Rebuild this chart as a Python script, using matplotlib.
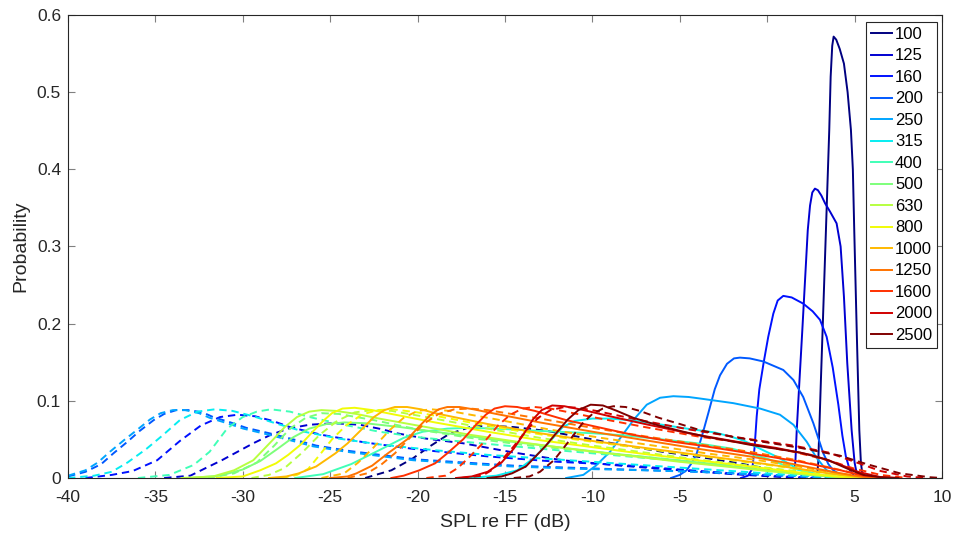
import matplotlib
matplotlib.use("Agg")
import matplotlib.pyplot as plt
import numpy as np

plt.rcParams['font.family'] = ['Liberation Sans', 'DejaVu Sans']
plt.rcParams['axes.unicode_minus'] = False

# Third-octave band centre frequencies (Hz)
bands = [100, 125, 160, 200, 250, 315, 400, 500, 630, 800, 1000, 1250, 1600, 2000, 2500]

# ---- solid curves: probability vs SPL re FF (dB) ----
s100_x = [2.7, 2.85, 2.92, 2.98, 3.07, 3.17, 3.36, 3.55, 3.63, 3.72, 3.8, 3.95, 4.15, 4.39, 4.6, 4.79, 4.9, 4.98, 5.12, 5.27, 5.36, 5.45, 5.7]
s100_y = [0, 0.002, 0.02, 0.062, 0.125, 0.192, 0.321, 0.451, 0.52, 0.56, 0.572, 0.568, 0.556, 0.537, 0.50, 0.451, 0.40, 0.321, 0.192, 0.062, 0.02, 0.004, 0]

s125_x = [1.3, 1.55, 1.62, 1.69, 1.83, 2.01, 2.32, 2.45, 2.58, 2.73, 2.9, 3.1, 3.31, 3.6, 3.97, 4.2, 4.39, 4.58, 4.83, 5.0, 5.12, 5.3]
s125_y = [0, 0.005, 0.025, 0.062, 0.12, 0.192, 0.321, 0.353, 0.370, 0.375, 0.373, 0.366, 0.356, 0.345, 0.330, 0.300, 0.235, 0.149, 0.062, 0.02, 0.006, 0]

s160_x = [-1.5, -1.1, -0.85, -0.72, -0.6, -0.45, -0.2, 0.06, 0.35, 0.6, 0.92, 1.4, 2.06, 2.6, 3.02, 3.4, 3.75, 4.07, 4.3, 4.5, 4.73, 5.0, 5.3]
s160_y = [0, 0.003, 0.012, 0.04, 0.08, 0.115, 0.15, 0.183, 0.213, 0.230, 0.236, 0.234, 0.226, 0.216, 0.205, 0.183, 0.143, 0.095, 0.055, 0.028, 0.010, 0.002, 0]

s200_x = [-5.5, -5.0, -4.61, -4.3, -4.03, -3.7, -3.37, -3.0, -2.7, -2.3, -1.9, -1.56, -1.0, -0.22, 0.92, 1.5, 2.06, 2.64, 3.21, 3.5, 3.78, 4.2, 4.8]
s200_y = [0, 0.004, 0.010, 0.020, 0.032, 0.057, 0.084, 0.115, 0.133, 0.148, 0.155, 0.156, 0.155, 0.151, 0.140, 0.127, 0.105, 0.071, 0.032, 0.018, 0.010, 0.004, 0]

s250_x = [-11.5, -10.52, -9.8, -8.99, -8.3, -7.66, -6.89, -6.13, -5.37, -4.5, -3.84, -1.94, -0.41, 0.73, 1.5, 2.26, 2.83, 3.4, 4.16, 5.0]
s250_y = [0, 0.004, 0.016, 0.034, 0.055, 0.075, 0.095, 0.104, 0.106, 0.105, 0.103, 0.097, 0.090, 0.082, 0.069, 0.047, 0.026, 0.010, 0.004, 0]

s315_x = [-17, -15.5, -14.3, -13.4, -12.6, -11.7, -11.0, -10.0, -9.0, -7.85, -6.0, -4.6, -3.0, -2.13, -1.3, -0.6, 0.6, 1.8, 3.0, 4.0]
s315_y = [0, 0.003, 0.010, 0.025, 0.043, 0.066, 0.074, 0.077, 0.077, 0.075, 0.069, 0.064, 0.059, 0.054, 0.048, 0.040, 0.027, 0.011, 0.004, 0]

s400_x = [-27, -25.4, -23.8, -22.2, -20.8, -19.7, -18.3, -17.0, -15.5, -13, -10, -8, -6, -4, -2, 0, 1.5, 3.0, 4.5]
s400_y = [0, 0.005, 0.018, 0.036, 0.052, 0.060, 0.064, 0.065, 0.064, 0.061, 0.058, 0.055, 0.050, 0.045, 0.038, 0.025, 0.012, 0.004, 0]

s500_x = [-33, -31.3, -30, -29, -28, -27.1, -26.2, -25.2, -24.2, -23, -21, -18, -15, -12, -9, -6, -3, 0, 2, 4, 5]
s500_y = [0, 0.003, 0.011, 0.022, 0.038, 0.053, 0.064, 0.070, 0.072, 0.071, 0.066, 0.057, 0.048, 0.040, 0.032, 0.025, 0.018, 0.010, 0.005, 0.001, 0]

s630_x = [-33.5, -31.7, -30.5, -29.4, -28.3, -27.6, -26.9, -26.2, -25.5, -24.7, -23.5, -22.2, -20, -17, -14, -11, -8, -5, -2, 0, 2.5, 4.5, 5.5]
s630_y = [0, 0.002, 0.010, 0.023, 0.049, 0.066, 0.079, 0.086, 0.088, 0.087, 0.083, 0.077, 0.068, 0.056, 0.046, 0.037, 0.029, 0.021, 0.014, 0.009, 0.004, 0.001, 0]

s800_x = [-31.5, -30, -29, -28.1, -27.4, -26.7, -26.0, -25.4, -24.9, -24.3, -23.6, -22.6, -21.5, -19, -16, -13, -10, -7, -4, -1, 1.5, 3.5, 5]
s800_y = [0, 0.002, 0.010, 0.019, 0.030, 0.043, 0.060, 0.074, 0.084, 0.090, 0.091, 0.088, 0.083, 0.072, 0.060, 0.049, 0.040, 0.031, 0.023, 0.015, 0.008, 0.003, 0]

s1000_x = [-28.5, -27.5, -26.8, -25.8, -24.7, -24.0, -23.2, -22.5, -21.9, -21.3, -20.6, -19.8, -19, -16, -13, -10, -7, -4, -1, 1.5, 3.5, 5, 6]
s1000_y = [0, 0.002, 0.006, 0.015, 0.032, 0.045, 0.063, 0.079, 0.088, 0.092, 0.092, 0.089, 0.084, 0.070, 0.058, 0.048, 0.039, 0.030, 0.021, 0.013, 0.006, 0.002, 0]

s1250_x = [-25, -24, -23.5, -22.6, -21.7, -20.6, -19.9, -19.3, -18.8, -18.3, -17.6, -16.8, -15.5, -13, -10, -7, -4, -1, 1.5, 3.5, 5, 6]
s1250_y = [0, 0.002, 0.006, 0.016, 0.032, 0.050, 0.067, 0.081, 0.089, 0.092, 0.092, 0.089, 0.083, 0.072, 0.060, 0.049, 0.038, 0.028, 0.018, 0.009, 0.003, 0]

s1600_x = [-21.5, -20.8, -19.9, -19.0, -18.3, -17.4, -16.7, -16.1, -15.6, -15.0, -14.3, -13.3, -11.5, -9.5, -7.7, -5.7, -3.8, -1.0, 1.9, 4.2, 5.5, 7]
s1600_y = [0, 0.003, 0.010, 0.019, 0.032, 0.050, 0.068, 0.082, 0.090, 0.093, 0.092, 0.087, 0.075, 0.065, 0.056, 0.048, 0.042, 0.032, 0.021, 0.010, 0.003, 0]

s2000_x = [-17.8, -16.9, -16.0, -15.2, -14.5, -13.9, -13.4, -12.9, -12.3, -11.6, -10.5, -9.0, -7, -4.5, -2, 0.5, 2.5, 4, 5.2, 6.5, 7.5]
s2000_y = [0, 0.002, 0.008, 0.020, 0.038, 0.058, 0.076, 0.088, 0.094, 0.093, 0.088, 0.080, 0.070, 0.058, 0.048, 0.039, 0.030, 0.019, 0.008, 0.001, 0]

s2500_x = [-16, -15.2, -14.6, -13.8, -12.7, -12.0, -11.4, -10.8, -10.1, -9.4, -8.6, -7.66, -6.2, -4.8, -3.4, -2.13, -0.98, 0.5, 1.88, 3.4, 4.7, 5.5, 6.5, 7.5]
s2500_y = [0, 0.002, 0.006, 0.015, 0.041, 0.060, 0.076, 0.088, 0.095, 0.094, 0.087, 0.078, 0.068, 0.060, 0.053, 0.048, 0.043, 0.038, 0.033, 0.024, 0.011, 0.004, 0.001, 0]

# ---- dashed curves ----
d100_x = [-23, -21.5, -20.3, -19.3, -18.2, -17.0, -16.0, -14.5, -12.6, -10, -8.4, -6, -3.8, -1.6, 0.5, 2, 3.5, 4.5]
d100_y = [0, 0.010, 0.025, 0.041, 0.057, 0.066, 0.068, 0.066, 0.061, 0.050, 0.043, 0.034, 0.027, 0.019, 0.010, 0.004, 0.001, 0]

d125_x = [-34.5, -33, -32.2, -31.2, -30.3, -29.4, -28.4, -27.4, -26.2, -24.8, -23.3, -22, -21.2, -19.5, -17.4, -14.5, -11.7, -8.4, -5, -2, 1, 2.5]
d125_y = [0, 0.003, 0.012, 0.023, 0.034, 0.045, 0.056, 0.064, 0.069, 0.071, 0.069, 0.063, 0.058, 0.051, 0.045, 0.033, 0.023, 0.016, 0.010, 0.005, 0.001, 0]

d160_x = [-39, -37.5, -36.3, -34.9, -33.6, -32.4, -31.3, -30.3, -29.3, -28.3, -27.3, -25.5, -23, -20, -16, -12, -8.4, -5, -2, 1, 3]
d160_y = [0, 0.004, 0.009, 0.023, 0.048, 0.068, 0.079, 0.082, 0.080, 0.074, 0.066, 0.056, 0.046, 0.037, 0.028, 0.021, 0.017, 0.011, 0.006, 0.002, 0]

d200_x = [-40, -39, -38.1, -37.4, -36.6, -35.9, -35.1, -34.5, -33.8, -33.1, -32.3, -31.7, -30.7, -29.8, -28.3, -27.1, -25.8, -23.9, -21.8, -20.0, -17.3, -14.5, -10.8, -6.8, -3.8, -0.8, 2.2, 4.2]
d200_y = [0.002, 0.008, 0.018, 0.032, 0.047, 0.061, 0.075, 0.083, 0.088, 0.088, 0.085, 0.079, 0.072, 0.065, 0.057, 0.050, 0.042, 0.035, 0.029, 0.024, 0.020, 0.016, 0.013, 0.010, 0.008, 0.005, 0.002, 0]

d250_x = [-40, -39, -38.3, -37.6, -36.8, -36.07, -35.3, -34.7, -34.0, -33.3, -32.5, -31.9, -30.9, -29.97, -28.5, -27.3, -25.97, -24.06, -22, -20.25, -17.5, -14.7, -11, -7, -4, -1, 2, 4]
d250_y = [0.003, 0.010, 0.020, 0.034, 0.049, 0.062, 0.076, 0.084, 0.088, 0.088, 0.084, 0.078, 0.071, 0.064, 0.056, 0.049, 0.041, 0.034, 0.028, 0.023, 0.019, 0.015, 0.012, 0.010, 0.008, 0.005, 0.002, 0]

d315_x = [-40, -38.5, -37.5, -36.6, -35.5, -34.6, -33.6, -32.6, -31.6, -30.6, -29.4, -28, -26.5, -24.5, -22, -19, -16, -12, -8, -4, 0, 3, 5]
d315_y = [0, 0.003, 0.008, 0.020, 0.038, 0.055, 0.075, 0.086, 0.089, 0.087, 0.080, 0.070, 0.060, 0.051, 0.043, 0.036, 0.030, 0.024, 0.018, 0.012, 0.006, 0.002, 0]

d400_x = [-36, -34.2, -32.8, -31.9, -30.9, -30.0, -29.2, -28.4, -27.3, -26, -24, -22.2, -20, -18.3, -14, -10, -6, -2, 1, 3, 5]
d400_y = [0, 0.004, 0.017, 0.034, 0.064, 0.079, 0.086, 0.089, 0.086, 0.078, 0.068, 0.060, 0.053, 0.049, 0.040, 0.032, 0.024, 0.015, 0.008, 0.003, 0]

d500_x = [-32, -30.5, -29.2, -28.2, -27.3, -26.4, -25.5, -24.5, -22.5, -20, -17, -14, -10, -6, -2, 1, 3.5, 5]
d500_y = [0, 0.006, 0.020, 0.042, 0.064, 0.078, 0.084, 0.083, 0.075, 0.063, 0.052, 0.043, 0.034, 0.025, 0.016, 0.008, 0.002, 0]

d630_x = [-29.5, -28.5, -27.6, -26.6, -25.6, -24.6, -23.6, -22.6, -21.5, -19.5, -16.5, -13, -10, -7, -4, -1, 2, 4, 5.5]
d630_y = [0, 0.004, 0.013, 0.033, 0.056, 0.074, 0.085, 0.088, 0.087, 0.079, 0.066, 0.052, 0.042, 0.033, 0.024, 0.016, 0.008, 0.002, 0]

d800_x = [-27.8, -26.9, -26.25, -25.6, -24.9, -24.1, -23.2, -22.3, -21.4, -20, -17, -14, -11, -8, -5, -2, 1, 3.5, 5.5, 6.5]
d800_y = [0, 0.004, 0.012, 0.030, 0.050, 0.068, 0.082, 0.088, 0.089, 0.085, 0.072, 0.060, 0.050, 0.041, 0.032, 0.023, 0.014, 0.006, 0.001, 0]

d1000_x = [-25.5, -24.2, -23.4, -22.5, -21.6, -20.8, -20.0, -19.2, -18.2, -15.5, -12.5, -9.5, -6.5, -3.5, -0.5, 2, 4, 5.5, 7]
d1000_y = [0, 0.006, 0.020, 0.040, 0.062, 0.078, 0.087, 0.089, 0.087, 0.076, 0.063, 0.052, 0.042, 0.032, 0.023, 0.014, 0.006, 0.002, 0]

d1250_x = [-24, -22.9, -22.1, -21.3, -20.4, -19.6, -18.8, -17.9, -17.0, -16, -13, -10, -7, -4, -1, 1.5, 3.5, 5, 6.5, 7.5]
d1250_y = [0, 0.006, 0.017, 0.032, 0.053, 0.071, 0.083, 0.089, 0.090, 0.088, 0.077, 0.065, 0.054, 0.044, 0.034, 0.024, 0.014, 0.006, 0.001, 0]

d1600_x = [-19.5, -18.4, -17.7, -17.0, -16.1, -15.4, -14.7, -14.0, -13.3, -12.4, -10, -7, -4, -1, 1.5, 3.5, 5, 6.5, 8]
d1600_y = [0, 0.003, 0.013, 0.028, 0.049, 0.068, 0.082, 0.090, 0.092, 0.090, 0.079, 0.066, 0.054, 0.044, 0.034, 0.023, 0.012, 0.004, 0]

d2000_x = [-17.5, -16.3, -15.7, -15.2, -14.5, -13.8, -13.1, -12.4, -11.6, -10.8, -9.8, -7.5, -4.5, -1.5, 1.5, 3.5, 5, 6.5, 8, 9]
d2000_y = [0, 0.003, 0.011, 0.023, 0.041, 0.061, 0.078, 0.088, 0.092, 0.091, 0.087, 0.076, 0.063, 0.052, 0.042, 0.033, 0.021, 0.009, 0.002, 0]

d2500_x = [-14.5, -13.6, -13.0, -12.2, -11.3, -10.6, -10.0, -9.4, -8.8, -8.1, -7.3, -6.2, -5.0, -3.84, -1.9, 0, 1.9, 4.16, 5.69, 7.6, 9.3, 10]
d2500_y = [0, 0.002, 0.008, 0.023, 0.049, 0.070, 0.083, 0.090, 0.093, 0.092, 0.087, 0.078, 0.070, 0.062, 0.053, 0.046, 0.039, 0.029, 0.018, 0.006, 0.001, 0]

solid = [(s100_x, s100_y), (s125_x, s125_y), (s160_x, s160_y), (s200_x, s200_y),
         (s250_x, s250_y), (s315_x, s315_y), (s400_x, s400_y), (s500_x, s500_y),
         (s630_x, s630_y), (s800_x, s800_y), (s1000_x, s1000_y), (s1250_x, s1250_y),
         (s1600_x, s1600_y), (s2000_x, s2000_y), (s2500_x, s2500_y)]
dashed = [(d100_x, d100_y), (d125_x, d125_y), (d160_x, d160_y), (d200_x, d200_y),
          (d250_x, d250_y), (d315_x, d315_y), (d400_x, d400_y), (d500_x, d500_y),
          (d630_x, d630_y), (d800_x, d800_y), (d1000_x, d1000_y), (d1250_x, d1250_y),
          (d1600_x, d1600_y), (d2000_x, d2000_y), (d2500_x, d2500_y)]

colors = plt.cm.jet(np.linspace(0, 1, len(bands)))

fig = plt.figure(figsize=(9.56, 5.37), dpi=100)
ax = fig.add_axes([68 / 956, 59 / 537, 874 / 956, 463 / 537])

lw = 1.4
handles = []
for i, band in enumerate(bands):
    h, = ax.plot(solid[i][0], solid[i][1], color=colors[i], lw=lw, label=str(band))
    ax.plot(dashed[i][0], dashed[i][1], color=colors[i], lw=lw, linestyle=(0, (3.8, 2.5)))
    handles.append(h)

ax.set_xlim(-40, 10)
ax.set_ylim(0, 0.6)
ax.set_xticks(np.arange(-40, 11, 5))
ax.set_yticks(np.arange(0, 0.61, 0.1))
ax.set_yticklabels(['0', '0.1', '0.2', '0.3', '0.4', '0.5', '0.6'])

axis_col = (0.15, 0.15, 0.15)
for sp in ax.spines.values():
    sp.set_color(axis_col)
    sp.set_linewidth(0.8)
ax.tick_params(direction='in', length=5, width=0.8, color=(0.5, 0.5, 0.5),
               labelcolor=axis_col, labelsize=12.5, top=True, right=True)
ax.tick_params(axis='x', pad=9)
ax.tick_params(axis='y', pad=5)

ax.set_xlabel('SPL re FF (dB)', fontsize=14, color=axis_col, labelpad=6)
ax.set_ylabel('Probability', fontsize=14, color=axis_col, labelpad=5)

leg = ax.legend(handles=handles, loc='upper right', bbox_to_anchor=(0.9943, 0.985),
                borderaxespad=0, fontsize=12, handlelength=1.3, handletextpad=0.15,
                labelspacing=0.39, borderpad=0.3, fancybox=False, framealpha=1)
leg.get_frame().set_edgecolor(axis_col)
leg.get_frame().set_linewidth(0.8)

fig.savefig('out.png', dpi=100)
